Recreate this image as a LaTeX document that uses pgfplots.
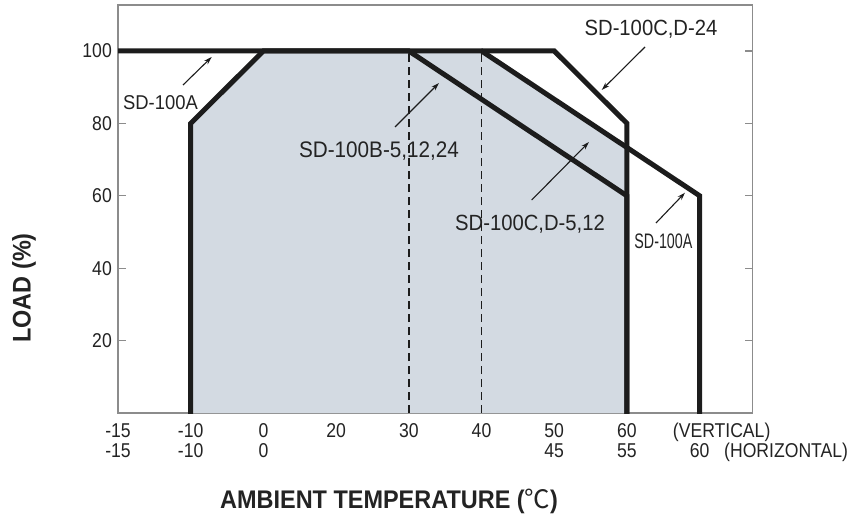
\documentclass[border=0pt]{standalone}
\usepackage{fontspec}
\setmainfont{Liberation Sans}[FakeStretch=0.92]
\newfontfamily\tickfont{Liberation Sans}[FakeStretch=0.88]
\newfontfamily\narrowfont{Liberation Sans}[FakeStretch=0.68]
\newfontfamily\cjk{Noto Sans CJK SC}
\usepackage{pgfplots}
\pgfplotsset{compat=1.18}
\usetikzlibrary{arrows.meta}
\definecolor{fillc}{RGB}{211,218,226}
\definecolor{axgray}{RGB}{140,140,140}
\definecolor{txt}{RGB}{35,35,35}
\definecolor{lin}{RGB}{28,28,28}
\begin{document}
\begin{tikzpicture}[x=1pt,y=1pt]
\path[use as bounding box] (0,0) rectangle (850,515);
\begin{axis}[
  at={(118pt,102pt)}, anchor=south west, scale only axis,
  width=634.7pt, height=408pt,
  xmin=0, xmax=8.73, ymin=0, ymax=112.7,
  axis line style={axgray, line width=1.2pt},
  tick style={axgray, line width=1.2pt},
  tick align=inside, major tick length=8pt,
  xtick={0,1,2,3,4,5,6,7,8},
  xticklabels={{\strut-15\\\strut-15},{\strut-10\\\strut-10},{\strut0\\\strut0},{\strut20},{\strut30},{\strut40},{\strut50\\\strut45},{\strut60\\\strut55},{\strut\\\strut60}},
  xtick pos=bottom,
  ytick={20,40,60,80,100},
  yticklabels={20,40,60,80,100},
  ytick pos=both, yticklabel pos=left,
  xticklabel style={font=\tickfont\fontsize{20}{20}\selectfont, align=center, inner sep=0pt, anchor=north, yshift=-10.3pt, text=txt},
  yticklabel style={font=\tickfont\fontsize{20}{20}\selectfont, inner sep=0pt, anchor=east, xshift=-6pt, text=txt},
]
% shaded operating region
\addplot[fill=fillc, draw=none] coordinates {(1,0) (1,80) (2,100) (5,100) (7,73.333) (7,0)} -- cycle;
% dashed guide lines
\addplot[lin, line width=1.4pt, dash pattern=on 8pt off 5pt] coordinates {(4,0) (4,100)};
\addplot[lin, line width=1.4pt, dash pattern=on 8pt off 5pt] coordinates {(5,0) (5,100)};
% SD-100A
\addplot[lin, line width=5pt, line join=miter] coordinates {(0,100) (5,100) (8,60) (8,-3)};
% SD-100B-5,12,24
\addplot[lin, line width=5pt, line join=miter] coordinates {(1,-3) (1,80) (2,100) (4,100) (7,60) (7,-3)};
% SD-100C,D-24
\addplot[lin, line width=5pt, line join=miter] coordinates {(5,100) (6,100) (7,80) (7,-3)};
\end{axis}
% annotations
\tikzset{ann/.style={-{Stealth[length=8pt,width=5pt]}, lin, line width=1.1pt}}
\draw[ann] (183,430) -- (211.7,458);
\node[anchor=base, inner sep=0pt, text=txt, font=\fontsize{20}{22}\selectfont] at (160.5,405.7) {SD-100A};
\draw[ann] (395,388) -- (439,432);
\node[anchor=base, inner sep=0pt, text=txt, font=\fontsize{22.5}{24}\selectfont] at (379,357.5) {SD-100B-5,12,24};
\draw[ann] (645,468) -- (601.7,425);
\node[anchor=base, inner sep=0pt, text=txt, font=\fontsize{22}{24}\selectfont] at (651,479) {SD-100C,D-24};
\draw[ann] (531.7,315) -- (589,373);
\node[anchor=base, inner sep=0pt, text=txt, font=\fontsize{22}{24}\selectfont] at (530,285) {SD-100C,D-5,12};
\draw[ann] (656,292) -- (685,322.3);
\node[anchor=base, inner sep=0pt, text=txt, font=\narrowfont\fontsize{21}{22}\selectfont] at (663.4,266.7) {SD-100A};
% extra tick-row captions
\node[anchor=base west, inner sep=0pt, text=txt, font=\tickfont\fontsize{20}{20}\selectfont] at (672.7,77.7) {(VERTICAL)};
\node[anchor=base west, inner sep=0pt, text=txt, font=\tickfont\fontsize{20}{20}\selectfont] at (724,57.7) {(HORIZONTAL)};
% axis titles
\node[anchor=base west, inner sep=0pt, text=txt, font=\bfseries\fontsize{25.5}{27}\selectfont] at (220,6.7) {AMBIENT TEMPERATURE (\mdseries{\cjk ℃}\bfseries)};
\node[rotate=90, inner sep=0pt, text=txt, font=\bfseries\fontsize{25.5}{27}\selectfont] at (24,227) {LOAD (\%)};
\end{tikzpicture}
\end{document}
